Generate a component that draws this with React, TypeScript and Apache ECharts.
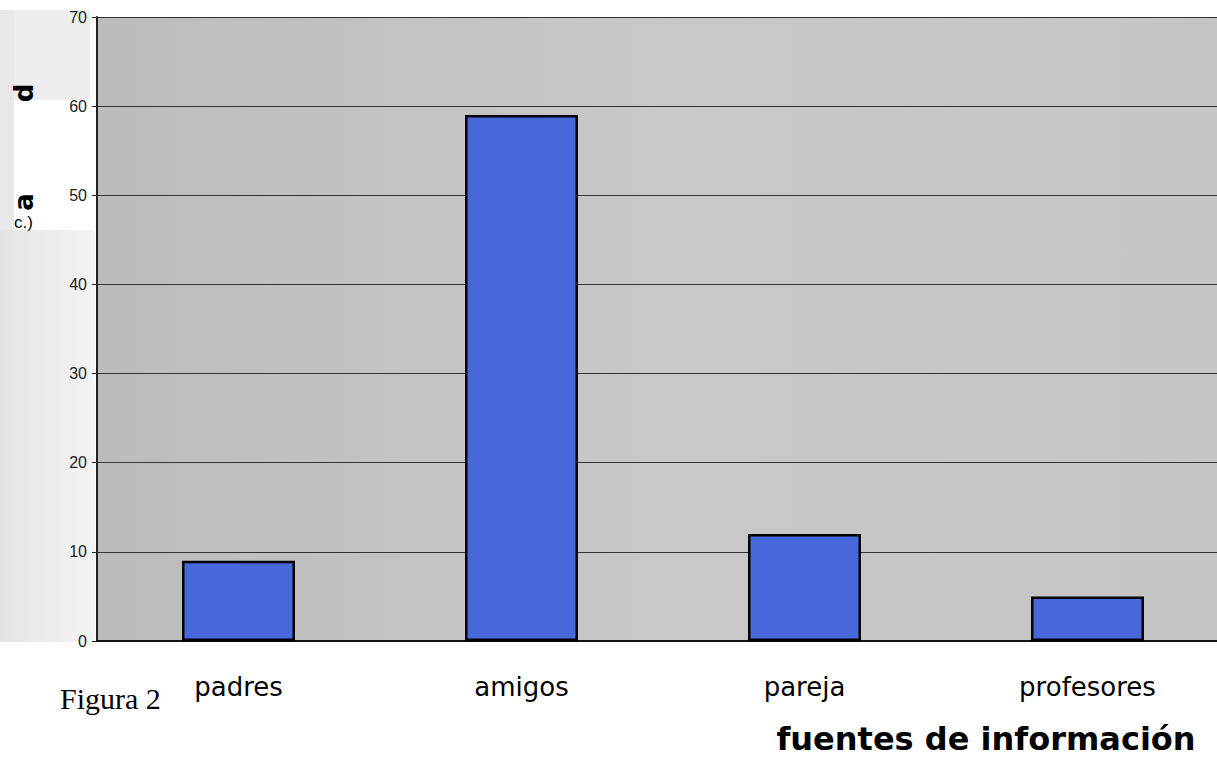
import React, { useEffect, useRef } from "react";
import * as echarts from "echarts";

const categories = ["padres", "amigos", "pareja", "profesores"];
const values = [9, 59, 12, 5];
const yTicks = [0, 10, 20, 30, 40, 50, 60, 70];

export default function App() {
  const ref = useRef<HTMLDivElement>(null);
  useEffect(() => {
    if (!ref.current) return;
    const chart = echarts.init(ref.current, null, { renderer: "svg" });
    chart.setOption({
      animation: false,
      backgroundColor: "#ffffff",
      grid: {
        left: 97,
        top: 17,
        height: 624,
        width: 1132,
        outerBoundsMode: "none",
        containLabel: false,
        show: true,
        backgroundColor: {
          type: "linear",
          x: 0, y: 0, x2: 1, y2: 0,
          colorStops: [
            { offset: 0, color: "#bcbcbc" },
            { offset: 0.5, color: "#c8c8c8" },
            { offset: 1, color: "#c5c5c5" },
          ],
        },
        borderWidth: 0,
      },
      graphic: [
        {
          type: "rect", shape: { x: 0, y: 230, width: 95, height: 412 }, z: -1,
          style: {
            fill: {
              type: "linear", x: 0, y: 0, x2: 1, y2: 0,
              colorStops: [
                { offset: 0, color: "#e4e4e4" },
                { offset: 1, color: "#f4f4f4" },
              ],
            },
          },
        },
        { type: "rect", shape: { x: 0, y: 10, width: 14, height: 220 }, style: { fill: "#e8e8e8" }, z: -1 },
        { type: "rect", shape: { x: 14, y: 10, width: 76, height: 90 }, style: { fill: "#eeeeee" }, z: -1 },
        {
          type: "text", x: 24, y: 93, rotation: Math.PI / 2,
          style: { text: "d", font: "bold 26px 'DejaVu Sans'", fill: "#000", align: "center", verticalAlign: "middle" },
        },
        {
          type: "text", x: 24, y: 202, rotation: Math.PI / 2,
          style: { text: "a", font: "bold 26px 'DejaVu Sans'", fill: "#000", align: "center", verticalAlign: "middle" },
        },
        {
          type: "text", x: 14, y: 222,
          style: { text: "c.)", font: "17px 'Liberation Sans Narrow', 'Liberation Sans'", fill: "#000", align: "left", verticalAlign: "middle" },
        },
        {
          type: "text", x: 60, y: 698,
          style: { text: "Figura 2", font: "30px 'Liberation Serif'", fill: "#000", align: "left", verticalAlign: "middle" },
        },
        {
          type: "text", x: 986, y: 739,
          style: { text: "fuentes de información", font: "bold 32px 'DejaVu Sans'", fill: "#000", align: "center", verticalAlign: "middle" },
        },
      ],
      xAxis: {
        type: "category",
        data: categories,
        axisLine: { show: true, lineStyle: { color: "#111", width: 2 } },
        axisTick: { show: false },
        axisLabel: { margin: 33, fontSize: 26, color: "#000", fontFamily: "'DejaVu Sans'" },
      },
      yAxis: {
        type: "value",
        min: 0,
        max: 70,
        interval: 10,
        axisLine: { show: true, lineStyle: { color: "#222", width: 2 } },
        axisTick: { show: true, length: 5, lineStyle: { color: "#222" } },
        axisLabel: {
          margin: 10,
          fontSize: 16,
          color: "#222",
          fontFamily: "'Liberation Sans Narrow', 'Liberation Sans'",
          formatter: (v: number) => (yTicks.includes(v) ? String(v) : ""),
        },
        splitLine: { show: true, lineStyle: { color: "#333", width: 1 } },
      },
      series: [
        {
          type: "bar",
          data: values,
          barWidth: 113,
          itemStyle: { color: "#4768da", borderColor: "#000", borderWidth: 2.5 },
        },
      ],
    });
    return () => chart.dispose();
  }, []);
  return (
    <div
      ref={ref}
      style={{ position: "fixed", left: 0, top: 0, width: 1217, height: 759, overflow: "hidden" }}
    />
  );
}
